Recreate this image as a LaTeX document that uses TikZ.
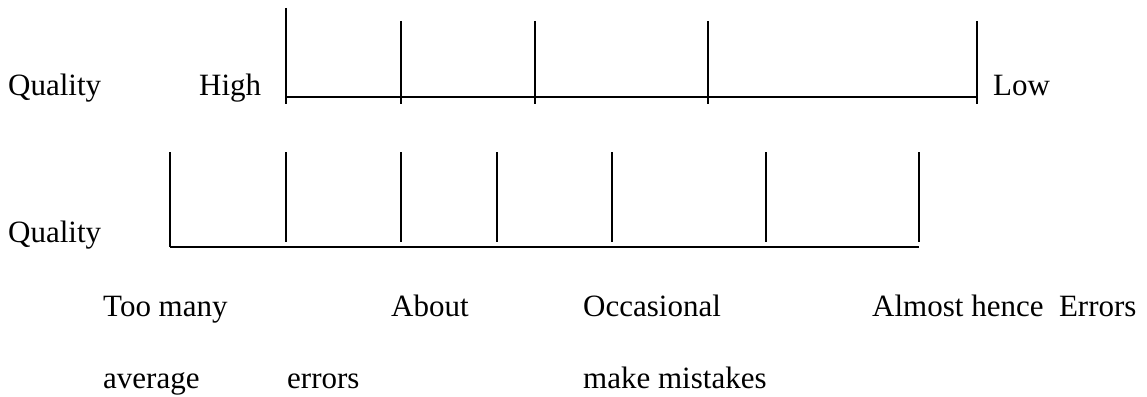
\documentclass[tikz,border=0pt]{standalone}
\usepackage{fontspec}
\setmainfont{Liberation Serif}
\usetikzlibrary{positioning}

\begin{document}
\begin{tikzpicture}[x=1pt,y=-1pt]
\tikzstyle{lbl}=[anchor=base west, inner sep=0pt, font=\fontsize{31}{37}\selectfont]
\tikzstyle{axis}=[line width=1.6pt]
\tikzstyle{tick}=[line width=1.5pt]
\useasboundingbox (0,0) rectangle (1147,396);

  % upper scale
  \node[lbl] (qualityA) at (8,95)   {Quality};
  \node[lbl] (high)     at (199,95) {High};
  \node[lbl] (low)      at (993,95) {Low};

  \coordinate (hs) at (286,97);
  \coordinate (he) at (977,97);
  \draw[axis] (hs) -- (he);
  \draw[tick] (286,8)  -- (286,104);
  \draw[tick] (401,21) -- (401,104);
  \draw[tick] (535,21) -- (535,104);
  \draw[tick] (708,21) -- (708,104);
  \draw[tick] (977,21) -- (977,104);

  % lower scale
  \node[lbl] (qualityB) at (8,242) {Quality};

  \coordinate (ls) at (170,247);
  \coordinate (le) at (919,247);
  \draw[axis] (ls) -- (le);
  \draw[tick] (170,152) -- (170,247);
  \draw[tick] (286,152) -- (286,242);
  \draw[tick] (401,152) -- (401,242);
  \draw[tick] (497,152) -- (497,242);
  \draw[tick] (612,152) -- (612,242);
  \draw[tick] (766,152) -- (766,242);
  \draw[tick] (919,152) -- (919,242);

  % labels under the lower scale
  \node[lbl] (toomany)    at (103,316) {Too many};
  \node[lbl] (about)      at (391,316) {About};
  \node[lbl] (occasional) at (583,316) {Occasional};
  \node[lbl] (almost)     at (872,316) {Almost hence\ \ Errors};

  \node[lbl] (average)    at (103,388) {average};
  \node[lbl] (errors)     at (287,388) {errors};
  \node[lbl] (mistakes)   at (583,388) {make mistakes};

\end{tikzpicture}
\end{document}
